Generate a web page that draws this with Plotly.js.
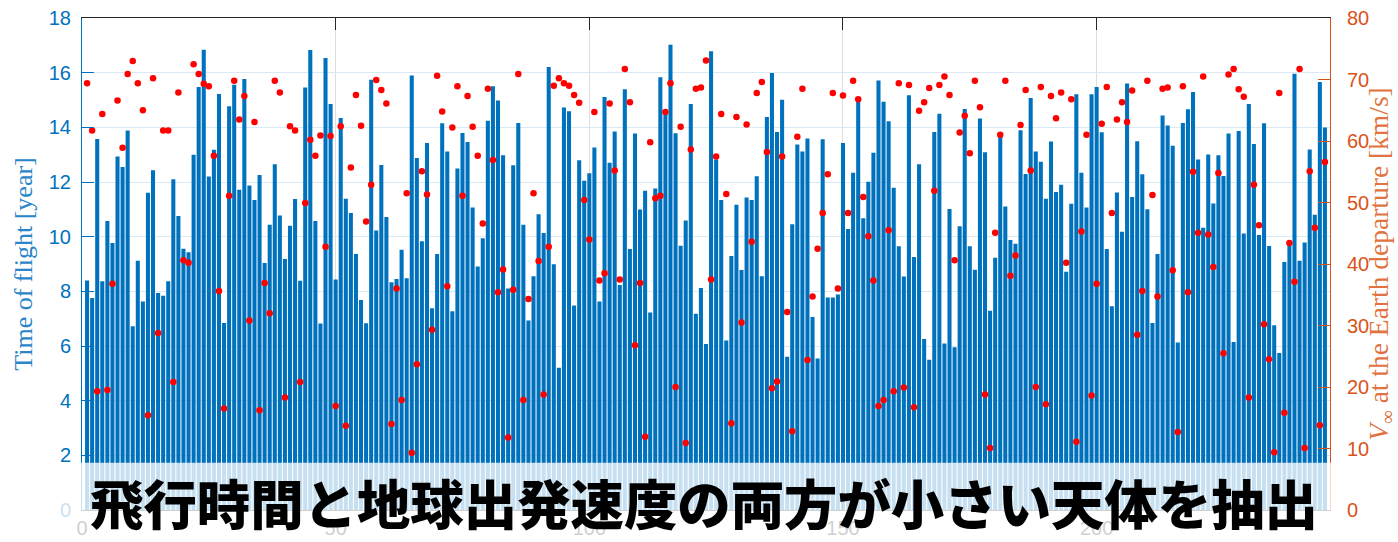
<!DOCTYPE html>
<html>
<head>
<meta charset="utf-8">
<script src="https://cdn.plot.ly/plotly-3.0.1.min.js"></script>
<style>
  html, body { margin: 0; padding: 0; background: #ffffff; }
  #chart { width: 1398px; height: 542px; }
</style>
</head>
<body>
<div id="chart"></div>
<script>
// Candidate bodies: time of flight [year] and Earth-departure V-infinity [km/s]
const timeOfFlight = [
  8.40, 7.76, 13.57, 8.37, 10.57, 9.77, 12.93, 12.55, 13.88, 6.72,
  9.12, 7.63, 11.61, 12.43, 7.94, 7.84, 8.37, 12.10, 10.76, 9.56,
  9.43, 13.00, 15.48, 16.84, 12.20, 13.18, 15.22, 6.84, 14.77, 15.56,
  11.72, 15.77, 11.87, 11.34, 12.26, 9.04, 10.44, 12.65, 10.77, 9.18,
  10.40, 11.38, 8.39, 15.46, 16.83, 10.57, 6.82, 16.54, 14.85, 8.43,
  14.34, 11.39, 10.87, 9.37, 7.68, 6.83, 15.74, 10.23, 12.62, 10.72,
  8.33, 8.45, 9.52, 8.48, 15.90, 12.88, 9.83, 13.43, 7.38, 9.37,
  14.15, 13.12, 7.27, 12.49, 13.79, 13.46, 11.07, 8.91, 9.94, 14.24,
  15.50, 14.98, 12.98, 8.10, 12.61, 14.16, 10.44, 6.93, 8.55, 10.82,
  10.13, 16.21, 8.99, 5.20, 14.73, 14.59, 7.48, 12.80, 12.05, 12.32,
  13.26, 7.63, 15.11, 12.70, 13.85, 8.23, 15.39, 9.55, 13.77, 10.99,
  11.68, 7.23, 11.76, 15.83, 14.54, 17.02, 13.78, 9.67, 10.59, 14.85,
  7.18, 8.12, 6.07, 16.78, 12.82, 11.34, 6.20, 9.29, 11.17, 8.78,
  11.43, 11.34, 12.21, 8.55, 14.38, 15.99, 13.83, 15.01, 5.61, 10.45,
  13.37, 13.12, 13.59, 7.06, 5.54, 13.56, 7.77, 7.77, 7.88, 13.43,
  10.28, 12.34, 14.94, 10.67, 12.01, 13.07, 15.71, 14.94, 14.22, 11.79,
  9.65, 8.54, 15.17, 9.26, 12.65, 6.26, 5.50, 13.83, 14.50, 6.09,
  11.01, 5.95, 10.38, 14.67, 9.65, 8.79, 14.32, 13.09, 7.29, 9.23,
  13.70, 11.10, 9.88, 9.74, 13.89, 12.29, 15.07, 13.12, 12.74, 11.39,
  13.48, 11.63, 11.90, 8.72, 11.20, 15.21, 12.34, 11.07, 15.21, 15.48,
  13.82, 9.55, 7.45, 11.62, 10.18, 15.60, 11.45, 13.49, 12.28, 11.00,
  6.84, 9.37, 14.43, 14.07, 13.33, 6.13, 14.16, 14.66, 15.29, 12.82,
  10.33, 13.01, 11.21, 12.98, 12.22, 13.77, 6.15, 13.87, 10.12, 14.85,
  13.39, 10.06, 14.15, 9.66, 6.76, 5.74, 9.07, 9.68, 15.96, 9.12,
  9.79, 13.19, 10.80, 15.66, 13.99
];

const vInfDeparture = [
  69.4, 61.7, 19.3, 64.4, 19.5, 36.8, 66.6, 58.9, 70.9, 73.0,
  69.4, 65.0, 15.4, 70.2, 28.8, 61.7, 61.7, 20.8, 67.9, 40.6,
  40.2, 72.5, 70.9, 69.3, 68.9, 57.6, 35.6, 16.5, 51.1, 69.8,
  63.5, 67.3, 30.8, 63.1, 16.2, 36.9, 32.0, 69.8, 67.9, 18.3,
  62.4, 61.7, 20.8, 49.9, 60.2, 57.6, 60.9, 42.8, 60.8, 16.9,
  62.4, 13.7, 55.7, 67.5, 62.5, 46.9, 52.9, 69.9, 68.3, 66.1,
  14.0, 36.0, 17.9, 51.5, 9.3, 23.7, 55.1, 51.3, 29.3, 70.6,
  64.8, 36.4, 62.2, 68.9, 51.1, 67.3, 62.3, 57.6, 46.6, 68.5,
  56.9, 35.4, 39.1, 11.8, 35.8, 70.9, 17.9, 34.3, 51.5, 40.5,
  18.8, 42.8, 69.0, 70.2, 69.4, 69.0, 67.5, 66.2, 50.4, 44.0,
  64.7, 37.3, 38.5, 66.1, 55.2, 37.5, 71.7, 66.3, 26.8, 36.9,
  11.9, 59.8, 50.7, 51.1, 64.7, 69.4, 20.0, 62.3, 10.9, 58.6,
  68.5, 68.7, 73.1, 37.5, 57.5, 64.4, 51.4, 14.1, 63.9, 30.5,
  62.7, 43.6, 67.8, 69.6, 58.2, 19.8, 20.9, 57.5, 32.2, 12.8,
  60.7, 68.5, 24.4, 34.7, 42.5, 48.3, 54.6, 67.8, 36.0, 67.4,
  48.3, 69.8, 66.8, 50.9, 44.5, 37.3, 16.9, 17.9, 45.5, 19.3,
  69.4, 19.9, 69.1, 16.7, 64.9, 66.3, 68.6, 51.9, 69.1, 70.5,
  67.5, 40.6, 61.4, 64.1, 58.0, 69.8, 65.5, 18.8, 10.1, 45.1,
  61.0, 69.8, 38.1, 41.4, 62.6, 68.3, 55.2, 20.0, 68.8, 17.2,
  67.3, 63.7, 67.9, 40.2, 66.8, 11.1, 45.3, 61.0, 18.6, 36.8,
  62.8, 68.8, 48.3, 63.5, 66.3, 63.1, 68.2, 28.5, 35.6, 69.8,
  51.2, 34.7, 68.5, 68.7, 39.0, 12.7, 68.9, 35.4, 55.0, 45.1,
  70.5, 44.8, 39.5, 54.8, 25.5, 70.8, 71.7, 68.4, 67.2, 18.3,
  52.9, 46.3, 30.2, 24.5, 9.4, 67.8, 15.8, 43.4, 37.1, 71.7,
  10.1, 55.1, 45.9, 13.8, 56.6
];

const bodyIndex = timeOfFlight.map((_, i) => i + 1);

const xTicks = [0, 50, 100, 150, 200];
const leftTicks = [0, 2, 4, 6, 8, 10, 12, 14, 16, 18];
const rightTicks = [0, 10, 20, 30, 40, 50, 60, 70, 80];

const headline = '飛行時間と地球出発速度の両方が小さい天体を抽出';

const BLUE = '#0072BD';
const ORANGE = '#D95319';
const tickFont = { family: 'Liberation Sans, Arial, sans-serif', size: 20 };
const serif = 'Liberation Serif, Times New Roman, serif';

const traces = [
  {
    type: 'bar',
    x: bodyIndex,
    y: timeOfFlight,
    marker: { color: BLUE, line: { width: 0 } },
    yaxis: 'y',
    hoverinfo: 'x+y'
  },
  {
    type: 'scatter',
    mode: 'markers',
    x: bodyIndex,
    y: vInfDeparture,
    marker: { color: '#ff0000', size: 6.5 },
    yaxis: 'y2',
    hoverinfo: 'x+y'
  }
];

const layout = {
  width: 1398,
  height: 542,
  margin: { l: 82, r: 68, t: 18, b: 32, pad: 0 },
  paper_bgcolor: '#ffffff',
  plot_bgcolor: '#ffffff',
  showlegend: false,
  bargap: 0.2,
  xaxis: {
    range: [0, 246],
    tickvals: xTicks,
    ticktext: xTicks.map(String),
    ticks: 'inside',
    ticklen: 12,
    tickcolor: '#262626',
    showline: true,
    linecolor: '#262626',
    linewidth: 1,
    mirror: 'ticks',
    showgrid: true,
    gridcolor: '#dedede',
    zeroline: false,
    tickfont: Object.assign({ color: '#262626' }, tickFont)
  },
  yaxis: {
    range: [0, 18],
    tickvals: leftTicks,
    ticks: 'inside',
    ticklen: 12,
    tickcolor: BLUE,
    showline: true,
    linecolor: BLUE,
    linewidth: 1,
    showgrid: true,
    gridcolor: '#d9eaf5',
    zeroline: false,
    ticklabelstandoff: 6,
    tickfont: Object.assign({ color: BLUE }, tickFont),
    title: {
      text: 'Time of flight [year]',
      font: { family: serif, size: 26, color: '#2a86c9' },
      standoff: 8
    }
  },
  yaxis2: {
    range: [0, 80],
    tickvals: rightTicks,
    overlaying: 'y',
    side: 'right',
    ticks: 'inside',
    ticklen: 12,
    tickcolor: ORANGE,
    showline: true,
    linecolor: ORANGE,
    linewidth: 1,
    showgrid: false,
    zeroline: false,
    ticklabelstandoff: 12,
    tickfont: Object.assign({ color: ORANGE }, tickFont),
    title: {
      text: '<i>V</i><sub>∞</sub> at the Earth departure [km/s]',
      font: { family: serif, size: 27.5, color: '#e0733f' },
      standoff: 13
    }
  },
  shapes: [
    {
      // translucent white strip behind the headline
      type: 'rect',
      xref: 'paper', yref: 'paper',
      x0: -0.026, x1: 1.0008,
      y0: -0.066, y1: 0.096,
      fillcolor: 'rgba(255,255,255,0.78)',
      line: { width: 0 },
      layer: 'above'
    }
  ],
  annotations: [
    {
      text: headline,
      xref: 'paper', yref: 'paper',
      x: 0.4984, y: 0.018,
      xanchor: 'center', yanchor: 'middle',
      showarrow: false,
      font: { family: 'Noto Sans CJK JP, sans-serif', size: 53.4, color: '#000000', weight: 900 }
    }
  ]
};

Plotly.newPlot('chart', traces, layout, { displayModeBar: false, staticPlot: true });
</script>
</body>
</html>
